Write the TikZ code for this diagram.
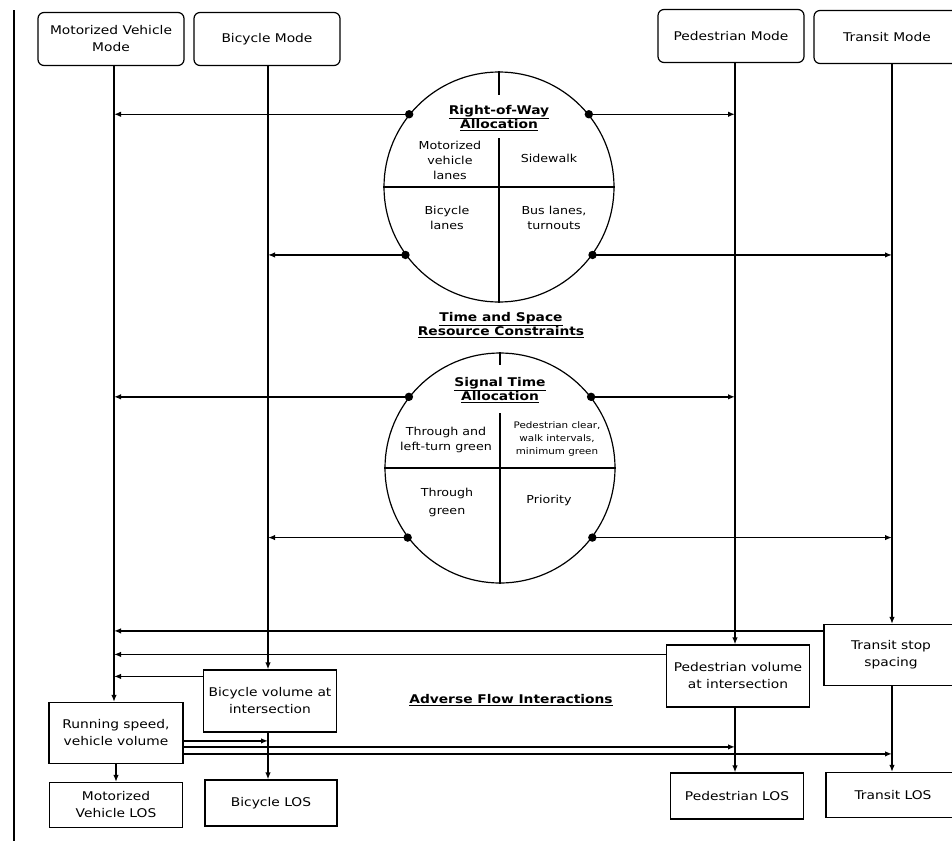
\documentclass[tikz,border=0pt]{standalone}
\usepackage{fontspec}
\setmainfont{DejaVu Sans}[FakeStretch=1.15]
\usetikzlibrary{arrows.meta,calc}
\begin{document}
\begin{tikzpicture}[x=1pt,y=-1pt,
  modebox/.style={draw, line width=1.2pt, rounded corners=6pt, inner sep=2pt, align=center,
    font=\fontsize{12}{17}\selectfont, minimum width=146pt, minimum height=53pt},
  databox/.style={draw, line width=1.2pt, inner sep=2pt, align=center,
    font=\fontsize{12}{17}\selectfont},
  conn/.style={line width=1.5pt},
  arr/.style={conn, -{Latex[length=7pt,width=5.5pt]}},
  ring/.style={draw, circle, line width=1.2pt, minimum size=230pt, inner sep=0pt},
  divider/.style={line width=1.2pt},
  ttl/.style={font=\bfseries\fontsize{12}{13.5}\selectfont, align=center, inner sep=0pt},
  inner/.style={font=\fontsize{11}{15}\selectfont, align=center, inner sep=0pt},
  dotfill/.style={fill=black}
]
\useasboundingbox (0,0) rectangle (952,841);
\fill[white] (0,0) rectangle (952,841);

% left page border
\coordinate (bt) at (14,10);
\coordinate (bb) at (14,841);
\draw[line width=1.4pt] (bt) -- (bb);

% column coordinates
\coordinate (cM) at (114,0);
\coordinate (cB) at (268,0);
\coordinate (cP) at (735,0);
\coordinate (cT) at (892,0);

% mode boxes
\node[modebox] (mm) at (111,39) {Motorized Vehicle\\Mode};
\node[modebox] (bm) at (267,39) {Bicycle Mode};
\node[modebox] (pm) at (731,36) {Pedestrian Mode};
\node[modebox] (tm) at (887,37) {Transit Mode};

% circle 1: right-of-way allocation
\node[ring] (c1) at (499,187) {};
\coordinate (c1s1) at (499,95);
\coordinate (c1s2) at (499,138);
\draw[divider] (c1.north) -- (c1s1);
\draw[divider] (c1s2) -- (c1.south);
\draw[divider] (c1.west) -- (c1.east);
\node[ttl] (c1t) at (499,118) {\underline{Right-of-Way}\\\underline{Allocation}};
\node[inner] (c1a) at (450,160) {Motorized\\vehicle\\lanes};
\node[inner] (c1b) at (549,158) {Sidewalk};
\node[inner] (c1c) at (447,218) {Bicycle\\lanes};
\node[inner] (c1d) at (554,218) {Bus lanes,\\turnouts};

\node[ttl] (tsr) at (501,325) {\underline{Time and Space}\\\underline{Resource Constraints}};

% circle 2: signal time allocation
\node[ring] (c2) at (500,468) {};
\coordinate (c2s1) at (500,365);
\coordinate (c2s2) at (500,413);
\draw[divider] (c2.north) -- (c2s1);
\draw[divider] (c2s2) -- (c2.south);
\draw[divider] (c2.west) -- (c2.east);
\node[ttl] (c2t) at (500,390) {\underline{Signal Time}\\\underline{Allocation}};
\node[inner] (c2a) at (446,440) {Through and\\left-turn green};
\node[inner, font=\fontsize{9}{13}\selectfont] (c2b) at (557,439) {Pedestrian clear,\\walk intervals,\\minimum green};
\node[inner, font=\fontsize{11}{18}\selectfont] (c2c) at (447,502) {Through\\green};
\node[inner] (c2d) at (549,500) {Priority};

% bottom boxes
\node[databox, minimum width=133pt, minimum height=62pt] (bv) at (270,701) {Bicycle volume at\\intersection};
\node[databox, minimum width=134pt, minimum height=61pt] (rs) at (116,733) {Running speed,\\vehicle volume};
\node[databox, minimum width=133pt, minimum height=45pt] (mlos) at (116,805) {Motorized\\Vehicle LOS};
\node[databox, minimum width=132pt, minimum height=46pt] (blos) at (271,803) {Bicycle LOS};
\node[databox, minimum width=143pt, minimum height=62pt] (pv) at (738,676) {Pedestrian volume\\at intersection};
\node[databox, minimum width=134pt, minimum height=61pt] (ts) at (891,655) {Transit stop\\spacing};
\node[databox, minimum width=133pt, minimum height=46pt] (plos) at (737,796) {Pedestrian LOS};
\node[databox, minimum width=134pt, minimum height=45pt] (tlos) at (893,795) {Transit LOS};

\node[ttl] (afi) at (511,700) {\underline{Adverse Flow Interactions}};

% vertical mode lines
\draw[arr] (mm.south -| cM) -- (rs.north -| cM);
\draw[arr] (bm.south -| cB) -- (bv.north -| cB);
\draw[arr] (pm.south -| cP) -- (pv.north -| cP);
\draw[arr] (tm.south -| cT) -- (ts.north -| cT);

% circle 1 connectors
\draw[arr] (c1.141) -- (c1.141 -| cM);
\draw[arr] (c1.39) -- (c1.39 -| cP);
\draw[arr] (c1.216) -- (c1.216 -| cB);
\draw[arr] (c1.324) -- (c1.324 -| cT);
\foreach \a in {141,39,216,324} \fill[dotfill] (c1.\a) circle (4.2pt);

% circle 2 connectors
\draw[arr] (c2.142) -- (c2.142 -| cM);
\draw[arr] (c2.38) -- (c2.38 -| cP);
\draw[arr] (c2.217) -- (c2.217 -| cB);
\draw[arr] (c2.323) -- (c2.323 -| cT);
\foreach \a in {142,38,217,323} \fill[dotfill] (c2.\a) circle (4.2pt);

% adverse flow interactions feeding motorized vehicle
\draw[arr] ([yshift=-7pt]ts.north west) -- ([yshift=-7pt]ts.north west -| cM);
\draw[arr] ([yshift=-10pt]pv.north west) -- ([yshift=-10pt]pv.north west -| cM);
\draw[arr] ([yshift=-7pt]bv.north west) -- ([yshift=-7pt]bv.north west -| cM);

% running speed feeding other modes
\draw[arr] ([yshift=-39pt]rs.north east) -- ([yshift=-39pt]rs.north east -| cB);
\draw[arr] ([yshift=-45pt]rs.north east) -- ([yshift=-45pt]rs.north east -| cP);
\draw[arr] ([yshift=-52pt]rs.north east) -- ([yshift=-52pt]rs.north east -| cT);

% to LOS boxes
\draw[arr] (rs.south) -- (mlos.north);
\draw[arr] (bv.south -| cB) -- (blos.north -| cB);
\draw[arr] (pv.south -| cP) -- (plos.north -| cP);
\draw[arr] (ts.south -| cT) -- (tlos.north -| cT);
\end{tikzpicture}
\end{document}
